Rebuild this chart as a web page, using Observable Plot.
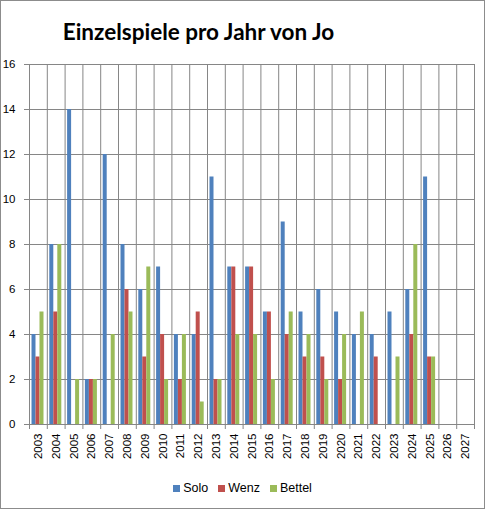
<!DOCTYPE html>
<html>
<head>
<meta charset="utf-8">
<script src="https://cdn.jsdelivr.net/npm/d3@7"></script>
<script src="https://cdn.jsdelivr.net/npm/@observablehq/plot@0.6"></script>
<style>
  html, body { margin: 0; padding: 0; background: #fff; }
  #chart { position: relative; box-sizing: border-box; width: 485px; height: 509px; border: 1px solid #8c8c8c; background: #fff; overflow: hidden; }
  #title { position: absolute; left: 0; width: 395px; top: 17px; text-align: center; font-family: Lato, sans-serif; font-weight: bold; font-size: 22.5px; color: #000; white-space: nowrap; }
  #plot { position: absolute; left: 0; top: 54px; }
  #legend { position: absolute; left: 0; right: 0; top: 480px; display: flex; justify-content: center; gap: 10px; font-family: "Liberation Sans", Arial, sans-serif; font-size: 12.5px; color: #000; }
  .item { display: flex; align-items: center; gap: 3px; }
  .sw { width: 7px; height: 7px; display: inline-block; }
</style>
</head>
<body>
<div id="chart">
  <div id="title">Einzelspiele pro Jahr von Jo</div>
  <div id="plot"></div>
  <div id="legend"></div>
</div>
<script>
const years = ["2003","2004","2005","2006","2007","2008","2009","2010","2011","2012","2013","2014","2015","2016","2017","2018","2019","2020","2021","2022","2023","2024","2025","2026","2027"];
const solo   = [4, 8, 14, 2, 12, 8, 6, 7, 4, 4, 11, 7, 7, 5, 9, 5, 6, 5, 4, 4, 5, 6, 11, null, null];
const wenz   = [3, 5, 0, 2, 0, 6, 3, 4, 2, 5, 2, 7, 7, 5, 4, 3, 3, 2, 0, 3, 0, 4, 3, null, null];
const bettel = [5, 8, 2, 2, 4, 5, 7, 2, 4, 1, 2, 4, 4, 2, 5, 4, 2, 4, 5, 0, 3, 8, 3, null, null];
const seriesNames = ["Solo", "Wenz", "Bettel"];
const colors = ["#4F81BD", "#C0504D", "#9BBB59"];
const yTicks = [0, 2, 4, 6, 8, 10, 12, 14, 16];

const seriesArrays = [solo, wenz, bettel];
const tables = seriesArrays.map((arr, j) =>
  years.map((yr, i) => ({year: yr, series: seriesNames[j], value: arr[i]})).filter(d => d.value != null)
);

const grid = "#868686";
const W = 482, H = 409, mL = 28, mR = 9, mT = 9, mB = 40;
const bw = (W - mL - mR) / years.length;   // band width in px
const barW = 4, groupOffset = 2.5;

const barMarks = tables.map((tbl, j) => {
  const insetLeft = groupOffset + j * barW;
  const insetRight = bw - insetLeft - barW;
  return Plot.barY(tbl, {x: "year", y: "value", fill: "series", insetLeft, insetRight});
});

const chart = Plot.plot({
  width: W,
  height: H,
  marginLeft: mL,
  marginRight: mR,
  marginTop: mT,
  marginBottom: mB,
  style: {fontFamily: "'Liberation Sans', Arial, sans-serif", fontSize: "11.5px", color: "#000", background: "transparent"},
  x: {type: "band", domain: years, paddingInner: 0, paddingOuter: 0, round: false, label: null},
  y: {domain: [0, 16], label: null},
  color: {domain: seriesNames, range: colors},
  marks: [
    Plot.gridY(yTicks, {stroke: grid, strokeOpacity: 1}),
    Plot.ruleX(years, {x: d => d, dx: -bw / 2, stroke: grid, insetBottom: -5}),
    Plot.ruleX(years.slice(-1), {x: d => d, dx: bw / 2, stroke: grid, insetBottom: -5}),
    ...barMarks,
    Plot.ruleY([0], {stroke: grid}),
    Plot.axisY(yTicks, {tickSize: 5, tickPadding: 9, stroke: grid, label: null, fill: "#000", fontSize: 11.5}),
    Plot.axisX({tickRotate: -90, tickSize: 0, tickPadding: 9, label: null, fontSize: 11.5, fill: "#000"})
  ]
});
document.getElementById("plot").appendChild(chart);

const legend = document.getElementById("legend");
seriesNames.forEach((name, i) => {
  const item = document.createElement("span");
  item.className = "item";
  const sw = document.createElement("span");
  sw.className = "sw";
  sw.style.background = colors[i];
  const t = document.createElement("span");
  t.textContent = name;
  item.appendChild(sw);
  item.appendChild(t);
  legend.appendChild(item);
});
</script>
</body>
</html>
